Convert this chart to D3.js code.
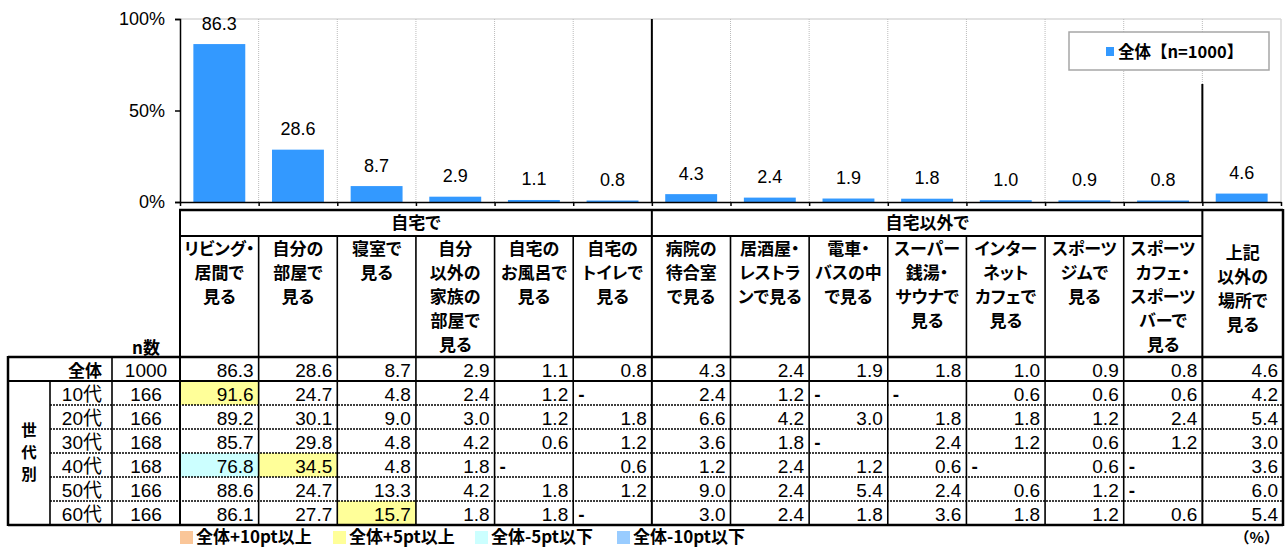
<!DOCTYPE html>
<html>
<head>
<meta charset="utf-8">
<script src="https://cdn.jsdelivr.net/npm/d3@7"></script>
<style>
  body { margin: 0; background: #fff; }
  svg text { font-family: "Liberation Sans", "Noto Sans CJK JP", sans-serif; fill: #000; }
  .jp { font-family: "Noto Sans CJK JP", sans-serif; font-weight: bold; font-feature-settings: "palt"; }
  .jp.full { font-feature-settings: normal; }
</style>
</head>
<body>
<svg id="chart" width="1287" height="548"></svg>
<script>
// data
const places = ["リビング・居間で見る", "自分の部屋で見る", "寝室で見る", "自分以外の家族の部屋で見る",
  "自宅のお風呂で見る", "自宅のトイレで見る", "病院の待合室で見る", "居酒屋・レストランで見る",
  "電車・バスの中で見る", "スーパー銭湯・サウナで見る", "インターネットカフェで見る",
  "スポーツジムで見る", "スポーツカフェ・スポーツバーで見る", "上記以外の場所で見る"];
const headerLines = [
  ["リビング・", "居間で", "見る"], ["自分の", "部屋で", "見る"], ["寝室で", "見る"],
  ["自分", "以外の", "家族の", "部屋で", "見る"], ["自宅の", "お風呂で", "見る"], ["自宅の", "トイレで", "見る"],
  ["病院の", "待合室", "で見る"], ["居酒屋・", "レストラ", "ンで見る"], ["電車・", "バスの中", "で見る"],
  ["スーパー", "銭湯・", "サウナで", "見る"], ["インター", "ネット", "カフェで", "見る"], ["スポーツ", "ジムで", "見る"],
  ["スポーツ", "カフェ・", "スポーツ", "バーで", "見る"], ["上記", "以外の", "場所で", "見る"]];
const groups = [{ name: "自宅で", from: 0, to: 6 }, { name: "自宅以外で", from: 6, to: 13 }];
const total = [86.3, 28.6, 8.7, 2.9, 1.1, 0.8, 4.3, 2.4, 1.9, 1.8, 1.0, 0.9, 0.8, 4.6];
const ageLabels = ["10代", "20代", "30代", "40代", "50代", "60代"];
const ageN = [166, 166, 168, 168, 166, 166];
const age10 = [91.6, 24.7, 4.8, 2.4, 1.2, null, 2.4, 1.2, null, null, 0.6, 0.6, 0.6, 4.2];
const age20 = [89.2, 30.1, 9.0, 3.0, 1.2, 1.8, 6.6, 4.2, 3.0, 1.8, 1.8, 1.2, 2.4, 5.4];
const age30 = [85.7, 29.8, 4.8, 4.2, 0.6, 1.2, 3.6, 1.8, null, 2.4, 1.2, 0.6, 1.2, 3.0];
const age40 = [76.8, 34.5, 4.8, 1.8, null, 0.6, 1.2, 2.4, 1.2, 0.6, null, 0.6, null, 3.6];
const age50 = [88.6, 24.7, 13.3, 4.2, 1.8, 1.2, 9.0, 2.4, 5.4, 2.4, 0.6, 1.2, null, 6.0];
const age60 = [86.1, 27.7, 15.7, 1.8, 1.8, null, 3.0, 2.4, 1.8, 3.6, 1.8, 1.2, 0.6, 5.4];
const ageRows = [age10, age20, age30, age40, age50, age60];
const yTicks = [0, 50, 100];
const legendItems = ["全体+10pt以上", "全体+5pt以上", "全体-5pt以下", "全体-10pt以下"];
const legendColors = ["#FAC699", "#FFFF99", "#CCFFFF", "#99CCFF"];

const svg = d3.select("#chart");
const barColor = "#3399FF";

const pL = 180, pR = 1281, pT = 19, pB = 202;
const x = d3.scaleBand().domain(places).range([pL, pR]);
const y = d3.scaleLinear().domain([0, 100]).range([pB, pT]);
const edge = d3.scaleLinear().domain([0, places.length]).range([pL, pR]);

// plot frame (gray top/right)
svg.append("line").attr("x1", pL).attr("x2", pR).attr("y1", pT).attr("y2", pT)
  .attr("stroke", "#d9d9d9").attr("stroke-width", 1.5);
svg.append("line").attr("x1", pR).attr("x2", pR).attr("y1", pT).attr("y2", pB)
  .attr("stroke", "#d9d9d9").attr("stroke-width", 1.5);

// dotted column grid
svg.append("g").selectAll("line").data(d3.range(1, places.length)).enter().append("line")
  .attr("x1", d => edge(d)).attr("x2", d => edge(d))
  .attr("y1", pT).attr("y2", pB)
  .attr("stroke", "#bbb").attr("stroke-width", 1).attr("stroke-dasharray", "1,1");

// bars
const barW = x.bandwidth() * 0.66;
svg.append("g").selectAll("rect").data(total).enter().append("rect")
  .attr("x", (d, i) => x(places[i]) + (x.bandwidth() - barW) / 2)
  .attr("y", d => y(d))
  .attr("width", barW)
  .attr("height", d => pB - y(d))
  .attr("fill", barColor);

svg.append("g").selectAll("text").data(total).enter().append("text")
  .attr("x", (d, i) => x(places[i]) + x.bandwidth() / 2)
  .attr("y", d => y(d) - 14.5)
  .attr("text-anchor", "middle")
  .style("font-size", "18px")
  .text(d => d.toFixed(1));

// separators in plot
svg.append("line").attr("x1", edge(6)).attr("x2", edge(6)).attr("y1", pT).attr("y2", pB)
  .attr("stroke", "#000").attr("stroke-width", 2);
svg.append("line").attr("x1", edge(13)).attr("x2", edge(13)).attr("y1", 84).attr("y2", pB)
  .attr("stroke", "#000").attr("stroke-width", 2);

// axes
const yAxis = svg.append("g").attr("transform", `translate(${pL},0)`)
  .call(d3.axisLeft(y).tickValues(yTicks).tickFormat(d => d + "%").tickSize(5).tickPadding(10));
yAxis.selectAll("text").style("font-size", "18px").attr("fill", "#000");
yAxis.selectAll("line, path").attr("stroke", "#000").attr("stroke-width", 1.5);

const xAxis = svg.append("g").attr("transform", `translate(0,${pB})`)
  .call(d3.axisBottom(edge).ticks(places.length).tickFormat("").tickSize(4).tickSizeOuter(0));
xAxis.selectAll("line, path").attr("stroke", "#000").attr("stroke-width", 1.5);

// legend box
svg.append("rect").attr("x", 1069).attr("y", 32).attr("width", 200).attr("height", 38)
  .attr("fill", "#fff").attr("stroke", "#a6a6a6").attr("stroke-width", 1.5);
svg.append("rect").attr("x", 1106).attr("y", 47).attr("width", 8).attr("height", 9).attr("fill", barColor);
svg.append("text").attr("class", "jp full").attr("x", 1118).attr("y", 58)
  .style("font-size", "16.5px").text("全体【n=1000】");

// ---------- table ----------
const tTop = 210, tG = 236, tHead = 357, rowH = 24;
const tLeft = 8, tRight = 1283;
const rowY = i => tHead + rowH * i; // i=0 全体, 1..6 ages
const tBottom = rowY(7);
const colL = i => edge(i);
const colR = i => (i === places.length - 1 ? tRight : edge(i + 1));

function colorFor(v, base) {
  if (v == null) return null;
  const dd = v - base;
  if (dd >= 10) return legendColors[0];
  if (dd >= 5) return legendColors[1];
  if (dd <= -10) return legendColors[3];
  if (dd <= -5) return legendColors[2];
  return null;
}

// highlight cells
ageRows.forEach((row, r) => {
  row.forEach((v, c) => {
    const col = colorFor(v, total[c]);
    if (col) {
      svg.append("rect").attr("x", colL(c)).attr("y", rowY(r + 1))
        .attr("width", colR(c) - colL(c)).attr("height", rowH).attr("fill", col);
    }
  });
});

// header texts
groups.forEach(g => {
  svg.append("text").attr("class", "jp")
    .attr("x", (colL(g.from) + colR(g.to - 1)) / 2).attr("y", 229)
    .attr("text-anchor", "middle").style("font-size", "17px").text(g.name);
});
headerLines.forEach((lines, c) => {
  const off = c === places.length - 1 ? 4 : 0;
  lines.forEach((t, k) => {
    svg.append("text").attr("class", "jp")
      .attr("x", (colL(c) + colR(c)) / 2).attr("y", 255 + off + k * 24)
      .attr("text-anchor", "middle").style("font-size", "17px").text(t);
  });
});
svg.append("text").attr("class", "jp").attr("x", 146).attr("y", 354)
  .attr("text-anchor", "middle").style("font-size", "17px").text("n数");

// row labels & numbers
const allRows = [total].concat(ageRows);
const allN = [1000].concat(ageN);
const numSize = "19px";
allRows.forEach((row, r) => {
  const base = rowY(r + 1) - 4.5;
  svg.append("text")
    .attr("class", r === 0 ? "jp" : null)
    .attr("x", 102).attr("y", base).attr("text-anchor", "end")
    .style("font-size", r === 0 ? "17px" : numSize)
    .text(r === 0 ? "全体" : ageLabels[r - 1]);
  svg.append("text").attr("x", 146).attr("y", base).attr("text-anchor", "middle")
    .style("font-size", numSize).text(allN[r]);
  row.forEach((v, c) => {
    if (v == null) {
      svg.append("text").attr("x", colL(c) + 5).attr("y", base)
        .style("font-size", numSize).style("font-weight", "bold").text("-");
    } else {
      svg.append("text").attr("x", colR(c) - 5).attr("y", base).attr("text-anchor", "end")
        .style("font-size", numSize).text(v.toFixed(1));
    }
  });
});
["世", "代", "別"].forEach((t, k) => {
  svg.append("text").attr("class", "jp").attr("x", 29).attr("y", 436 + k * 22)
    .attr("text-anchor", "middle").style("font-size", "15.5px").text(t);
});

// table lines
const line = (x1, y1, x2, y2, w, dash) => svg.append("line")
  .attr("x1", x1).attr("y1", y1).attr("x2", x2).attr("y2", y2)
  .attr("stroke", "#000").attr("stroke-width", w)
  .attr("stroke-dasharray", dash || null);

// dashed row separators
for (let r = 2; r <= 6; r++) line(50, rowY(r), tRight, rowY(r), 1.3, "2,1");
// column separators
for (let c = 1; c < places.length; c++) {
  const yStart = (c === 6 || c === 13) ? tTop : tG;
  line(edge(c), yStart, edge(c), tBottom, c === 6 || c === 13 ? 2 : 1.6);
}
line(50, rowY(1), 50, tBottom, 1.6);
line(112, tHead, 112, tBottom, 1.6);
line(pL, tTop, pL, tBottom, 2);
line(pL, tG, edge(13), tG, 2);
// thick outer borders
line(pL - 1, tTop, tRight, tTop, 2.5);
line(tLeft, tHead, tRight, tHead, 2.5);
line(tLeft, rowY(1), tRight, rowY(1), 2);
line(tLeft, tBottom, tRight, tBottom, 2.5);
line(tLeft, tHead - 1, tLeft, tBottom + 1, 2.5);
line(tRight, tTop - 1, tRight, tBottom + 1, 2.5);

// bottom legend
const legX = [180, 333, 475, 617];
legendItems.forEach((t, i) => {
  svg.append("rect").attr("x", legX[i]).attr("y", 531).attr("width", 13).attr("height", 13)
    .attr("fill", legendColors[i]);
  svg.append("text").attr("class", "jp").attr("x", legX[i] + 16).attr("y", 543)
    .style("font-size", "17px").text(t);
});
svg.append("text").attr("class", "jp full").attr("x", 1279).attr("y", 543)
  .attr("text-anchor", "end").style("font-size", "15px").text("（%）");
</script>
</body>
</html>
